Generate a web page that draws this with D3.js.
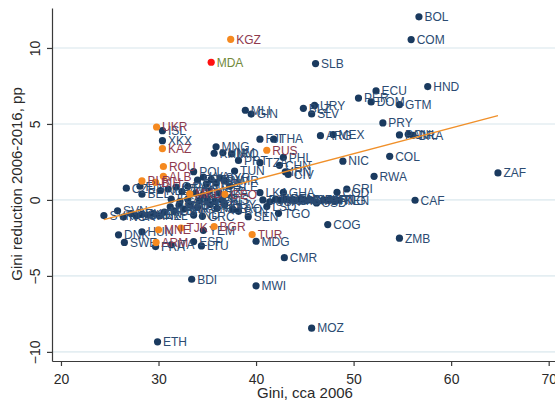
<!DOCTYPE html>
<html>
<head>
<meta charset="utf-8">
<script src="https://cdn.jsdelivr.net/npm/d3@7"></script>
<style>
  html, body { margin: 0; padding: 0; background: #fff; }
  svg { display: block; font-family: "Liberation Sans", Arial, sans-serif; }
</style>
</head>
<body>
<svg id="chart" width="555" height="402"></svg>
<script>
// Countries outside the highlighted groups
const navyCodes = [
  "BOL","COM","SLB","HND","ECU","PER","DOM","GTM","PRY","PAN","CHL","BRA",
  "ZAF","COL","NIC","RWA","CAF","ZMB","COG","CMR","MWI","BDI","MOZ","ETH",
  "BLZ","URY","SLV","MLI","GIN","FJI","THA","ARG","MEX","TUN","POL","PHL",
  "CHN","IRN","CIV","PRT","TZA","MNG","KHM","VNM","IRQ","ISL","XKX",
  "LKA","GHA","DJI","USA","LSO","UGA","NGA","BEN","GAB","JAM","MYS","GMB",
  "CPV","SSD","MRT","HTI","PNG","KEN","COD","CRI",
  "BTN","SEN","TGO","MDG","YEM","ESP","LTU","DNK","SWE","HUN","FRA","ITA",
  "CZE","FIN","BEL","NLD","AUT","CAN","EGY","PAK","EST","LVA","HRV","MDV",
  "NPL","SYR","BGD","JOR","MAR","DZA","IRL","GBR","AUS","CYP","MLT","IDN","TLS",
  "SVK","SVN","NOR","DEU","LUX","CHE","KOR","JPN","NZL","MUS","PSE","LBN",
  "SYC","KIR","WSM","IND","GRC","TON","SDN","NER","GUY","LAO","MMR","SLE"
];
const navyGini = [
  56.7,55.9,46.1,57.6,52.3,50.5,51.8,54.7,53.0,54.7,55.6,56.1,
  64.8,53.7,48.9,52.1,56.3,54.7,47.35,42.9,40.0,33.4,45.7,29.9,
  44.85,46.0,45.7,38.9,39.5,40.4,41.8,46.6,47.9,37.8,33.6,42.8,
  42.4,43.0,43.3,38.2,40.4,35.9,35.7,36.6,37.5,30.4,30.4,
  40.4,42.8,40.7,41.4,41.1,42.0,42.5,43.0,43.5,44.0,44.6,45.1,
  45.6,46.2,46.9,47.5,48.0,48.5,48.3,49.3,
  38.2,39.2,42.3,40.0,34.6,33.6,34.4,25.9,26.5,28.3,29.7,31.3,
  26.7,28.1,28.3,30.2,31.0,31.8,32.4,33.0,34.0,34.6,34.9,35.4,
  35.9,36.3,33.8,34.5,35.2,36.2,31.3,32.2,33.0,34.2,35.0,35.8,36.5,
  24.4,25.8,26.4,27.2,27.7,28.3,28.9,29.5,30.1,30.6,31.2,31.6,
  32.1,32.6,33.2,33.6,34.5,34.0,35.3,36.0,36.8,37.6,36.8,37.3
];
const navyReduction = [
  12.05,10.55,8.97,7.46,7.17,6.7,6.45,6.27,5.07,4.28,4.32,4.25,
  1.78,2.87,2.55,1.55,-0.02,-2.52,-1.62,-3.8,-5.65,-5.22,-8.44,-9.34,
  6.03,6.22,5.66,5.9,5.65,4.0,4.0,4.23,4.3,1.9,1.86,2.8,
  2.28,1.85,1.68,2.6,2.45,3.5,3.07,3.1,3.03,4.56,3.9,
  0.48,0.5,0.0,-0.12,-0.44,0.05,-0.02,0.05,0.0,-0.03,0.03,-0.05,
  0.0,-0.2,0.0,0.02,-0.05,-0.02,0.5,0.72,
  -0.75,-1.1,-0.88,-2.72,-2.0,-2.74,-3.03,-2.3,-2.8,-2.1,-3.07,-2.95,
  0.77,0.9,0.38,0.62,0.72,0.85,0.55,0.9,1.3,1.5,1.05,1.35,
  1.1,1.45,0.45,0.3,0.6,0.45,0.05,-0.1,0.05,-0.05,0.05,-0.1,0.0,
  -1.03,-0.72,-1.13,-0.9,-1.05,-0.95,-1.0,-0.9,-1.05,-0.8,-0.45,-0.72,
  -0.35,-0.6,-0.35,-1.0,-1.08,-0.5,-0.3,-0.55,-0.3,-0.6,1.25,0.9
];

// Europe and Central Asia
const orangeCodes = ["KGZ","UKR","KAZ","ROU","ALB","BLR","BIH","MKD","GEO","RUS","BGR","TUR","MNE","TJK","ARM"];
const orangeGini = [37.4,29.8,30.4,30.5,30.5,28.3,29.7,33.2,36.8,41.1,35.7,39.6,30.0,32.3,29.75];
const orangeReduction = [10.57,4.8,3.38,2.2,1.55,1.25,1.16,0.4,0.37,3.27,-1.75,-2.28,-1.97,-1.85,-2.8];

// Highlighted country
const redCodes = ["MDA"];
const redGini = [35.4];
const redReduction = [9.06];

// Linear fit, drawn across the observed Gini range
const fitGini = [24.4, 64.8];
const fitReduction = [-1.3, 5.55];

const xTicks = [20, 30, 40, 50, 60, 70];
const yTicks = [-10, -5, 0, 5, 10];

const svg = d3.select("#chart");
const plotLeft = 52, plotBottom = 361, plotTop = 8, plotRight = 556;

const x = d3.scaleLinear().domain([19.08, 70.75]).range([plotLeft, plotRight]);
const y = d3.scaleLinear().domain([-10.6, 12.63]).range([plotBottom, plotTop]);

// horizontal grid
svg.append("g").selectAll("line").data(yTicks).join("line")
  .attr("x1", plotLeft + 1).attr("x2", 555)
  .attr("y1", d => y(d)).attr("y2", d => y(d))
  .attr("stroke", "#e4eef2").attr("stroke-width", 1.6);

// axes
const xAxis = svg.append("g").attr("transform", `translate(0,${plotBottom})`)
  .call(d3.axisBottom(x).tickValues(xTicks).tickSize(5).tickPadding(5).tickSizeOuter(0));
const yAxis = svg.append("g").attr("transform", `translate(${plotLeft},0)`)
  .call(d3.axisLeft(y).tickValues(yTicks).tickSize(5).tickSizeOuter(0));

[xAxis, yAxis].forEach(g => {
  g.select(".domain").attr("stroke", "#3a3a3a").attr("stroke-width", 1.2);
  g.selectAll(".tick line").attr("stroke", "#3a3a3a").attr("stroke-width", 1.2);
  g.selectAll(".tick text").attr("fill", "#2a2a2a")
    .style("font-size", "14px").style("font-family", "'Liberation Sans', Arial, sans-serif");
});
xAxis.selectAll(".tick text").attr("dy", "0.95em");
yAxis.selectAll(".tick text")
  .attr("x", 0).attr("y", -12).attr("dy", 0)
  .attr("text-anchor", "middle")
  .attr("transform", "rotate(-90)");

// axis titles
svg.append("text")
  .attr("x", 305).attr("y", 398)
  .attr("text-anchor", "middle")
  .attr("fill", "#2a2a2a").style("font-size", "15px")
  .text("Gini, cca 2006");
svg.append("text")
  .attr("transform", "translate(22,184) rotate(-90)")
  .attr("text-anchor", "middle")
  .attr("fill", "#2a2a2a").style("font-size", "15px")
  .text("Gini reduction 2006-2016, pp");

function series(codes, gini, red, markerColor, labelColor) {
  const rows = codes.map((c, i) => ({ c, g: gini[i], r: red[i] }));
  const g = svg.append("g");
  g.selectAll("circle").data(rows).join("circle")
    .attr("cx", d => x(d.g)).attr("cy", d => y(d.r))
    .attr("r", 3.6).attr("fill", markerColor);
  g.selectAll("text").data(rows).join("text")
    .attr("x", d => x(d.g) + 5.5).attr("y", d => y(d.r))
    .attr("dy", "0.36em")
    .attr("fill", labelColor)
    .style("font-size", "12px")
    .text(d => d.c);
}

series(navyCodes, navyGini, navyReduction, "#1a3a5f", "#2b4b72");
series(orangeCodes, orangeGini, orangeReduction, "#f5891f", "#8e3a4e");
series(redCodes, redGini, redReduction, "#ff1010", "#72893a");

// fitted line
svg.append("line")
  .attr("x1", x(fitGini[0])).attr("y1", y(fitReduction[0]))
  .attr("x2", x(fitGini[1])).attr("y2", y(fitReduction[1]))
  .attr("stroke", "#f0902a").attr("stroke-width", 1.4);
</script>
</body>
</html>
